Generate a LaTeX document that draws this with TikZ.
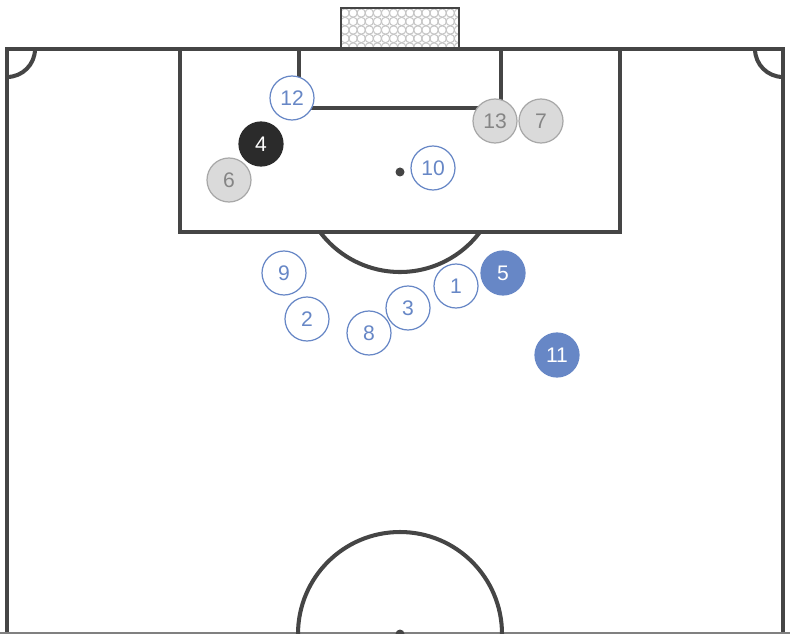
\documentclass[tikz,border=0pt]{standalone}
\usepackage{fontspec}
\setmainfont{Liberation Sans}
\usepackage{tikz}
\definecolor{pitchline}{HTML}{454545}
\definecolor{homeblue}{HTML}{6787C6}
\definecolor{awaygrey}{HTML}{DADADA}
\definecolor{awayedge}{HTML}{A8A8A8}
\definecolor{awaytext}{HTML}{858585}
\definecolor{keeper}{HTML}{2B2B2B}

\begin{document}
\begin{tikzpicture}[line cap=butt,line join=miter,x=0.02cm,y=-0.02cm,
	pline/.style={draw=pitchline,line width=2.3pt},
	player/.style={circle,minimum size=44*0.02cm,inner sep=0pt,line width=0.7pt,font=\fontsize{12}{14}\selectfont},
	homeopen/.style={player,draw=homeblue,fill=white,text=homeblue},
	homefull/.style={player,draw=homeblue,fill=homeblue,text=white},
	away/.style={player,draw=awayedge,fill=awaygrey,text=awaytext},
	goalie/.style={player,draw=keeper,fill=keeper,text=white}]
	\useasboundingbox (0,0) rectangle (790,634);
	\clip (0,0) rectangle (790,634);
	% goal and net
	\begin{scope}
	\clip (341,8) rectangle (459,49);
	\foreach \r in {0,...,4} {
		\foreach \c in {0,...,14} {
			\draw [gray!45,line width=0.6pt] (345+\c*8.1,13+\r*8.5) circle (4.2);
		}
	}
	\end{scope}
	\draw [draw=pitchline,line width=1.4pt] (341,49) -- (341,8) -- (459,8) -- (459,49);
	% touchlines, goal line, halfway line
	\draw [pline,line width=2.8pt] (7,640) -- (7,49) -- (783,49) -- (783,640);
	\draw [draw=gray,line width=1.5pt] (0,633) -- (790,633);
	% penalty area and goal area
	\draw [pline] (180,49) -- (180,232) -- (620,232) -- (620,49);
	\draw [pline] (299,49) -- (299,108) -- (501,108) -- (501,49);
	\draw [pline] (480,232) arc (36.87:143.13:100);
	\fill [pitchline] (400,172) circle (4.5);
	% corner arcs
	\draw [pline] (35,49) arc (0:90:28);
	\draw [pline] (755,49) arc (180:90:28);
	% centre circle
	\draw [pline] (400,634) circle (102);
	\fill [pitchline] (400,634) circle (4.5);
	% players
	\node [homeopen] (p12) at (292,98) {12};
	\node [away] (p13) at (495,121) {13};
	\node [away] (p7) at (541,121) {7};
	\node [goalie] (p4) at (261,144) {4};
	\node [away] (p6) at (229,180) {6};
	\node [homeopen] (p10) at (433,168) {10};
	\node [homeopen] (p9) at (284,273) {9};
	\node [homefull] (p5) at (503,273) {5};
	\node [homeopen] (p1) at (456,286) {1};
	\node [homeopen] (p3) at (408,308) {3};
	\node [homeopen] (p2) at (307,319) {2};
	\node [homeopen] (p8) at (369,333) {8};
	\node [homefull] (p11) at (557,355) {11};
\end{tikzpicture}
\end{document}
